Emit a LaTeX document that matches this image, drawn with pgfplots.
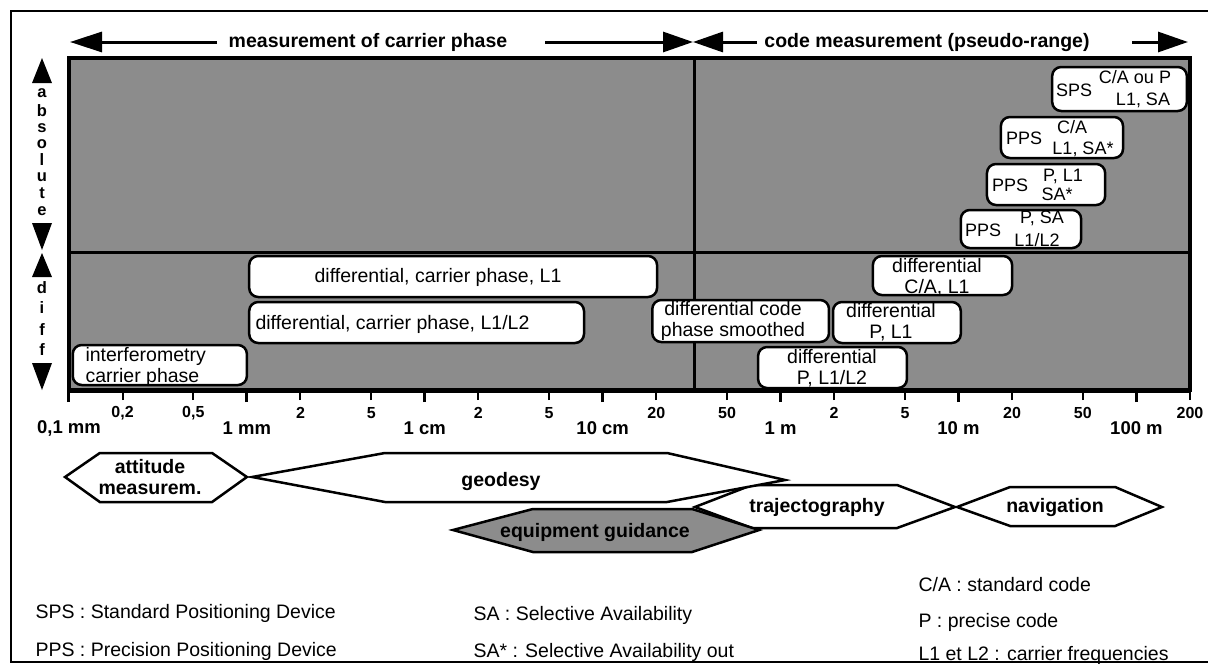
\documentclass[border=0pt]{standalone}
\usepackage{fontspec}
\setmainfont{Liberation Sans}
\usepackage{pgfplots}
\pgfplotsset{compat=1.18}
\usetikzlibrary{arrows.meta}
\newcommand{\fsB}{\fontsize{19.5}{21}\selectfont\bfseries}
\newcommand{\fsR}{\fontsize{19.5}{20.5}\selectfont}
\newcommand{\fsS}{\fontsize{18}{21}\selectfont}
\newcommand{\fsL}{\fontsize{16.5}{17}\selectfont\bfseries}
\begin{document}
\begin{tikzpicture}
\path[use as bounding box] (0pt,0pt) rectangle (1208pt,-664pt);
\begin{axis}[
  at={(69pt,-390pt)}, anchor=south west,
  scale only axis, width=1121pt, height=332pt,
  xmode=log, xmin=0.1, xmax=200000, ymin=274, ymax=606,
  enlargelimits=false, clip=false,
  axis background/.style={fill=black!45},
  axis line style={line width=3.5pt},
  ytick=\empty, xminorticks=false,
  xtick pos=left, tick align=outside,
  xtick={0.1,1,10,100,1000,10000,100000},
  xticklabels={{0,1 mm},{1 mm},{1 cm},{10 cm},{1 m},{10 m},{100 m}},
  major tick length=12pt,
  xtick style={line width=3pt, black},
  xticklabel style={font=\fontsize{18.5}{20}\selectfont\bfseries, anchor=center, yshift=-26pt},
  extra x ticks={0.2,0.5,2,5,20,50,200,500,2000,5000,20000,50000,200000},
  extra x tick labels={{0,2},{0,5},2,5,2,5,20,50,2,5,20,50,200},
  extra x tick style={xtick style={line width=2pt, black}, major tick length=10pt,
     xticklabel style={font=\fontsize{16}{18}\selectfont\bfseries, yshift=13pt}},
]
% dividers
\addplot[black, line width=3pt] coordinates {(0.1,412) (200000,412)};
\addplot[black, line width=3pt] coordinates {(326,274) (326,606)};
% rounded boxes
\pgfplotsset{bx/.style={draw=black, fill=white, line width=2.5pt, rounded corners=9pt}}
\addplot[bx] coordinates {(0.105,299) (0.105,279) (1.0,279) (1.0,319) (0.105,319) (0.105,299)};
\addplot[bx] coordinates {(1.03,387) (1.03,367) (202,367) (202,408) (1.03,408) (1.03,387)};
\addplot[bx] coordinates {(1.03,341) (1.03,321) (78.5,321) (78.5,362) (1.03,362) (1.03,341)};
\addplot[bx] coordinates {(190,343) (190,322) (1870,322) (1870,364) (190,364) (190,343)};
\addplot[bx] coordinates {(1970,341) (1970,321) (10300,321) (10300,362) (1970,362) (1970,341)};
\addplot[bx] coordinates {(3300,388) (3300,369) (20000,369) (20000,408) (3300,408) (3300,388)};
\addplot[bx] coordinates {(747,296) (747,276) (5130,276) (5130,317) (747,317) (747,296)};
\addplot[bx] coordinates {(10300,435) (10300,416) (48900,416) (48900,454) (10300,454) (10300,435)};
\addplot[bx] coordinates {(14450,479) (14450,459) (66700,459) (66700,500) (14450,500) (14450,479)};
\addplot[bx] coordinates {(17300,526) (17300,506) (84100,506) (84100,547) (17300,547) (17300,526)};
\addplot[bx] coordinates {(33600,575) (33600,553) (192000,553) (192000,597) (33600,597) (33600,575)};
% application hexagons
\pgfplotsset{hx/.style={draw=black, fill=white, line width=2.5pt, line join=miter}}
\addplot[hx] coordinates {(330,157) (690,179) (4510,179) (9550,157) (4510,136) (690,136)} -- cycle;
\addplot[hx] coordinates {(9810,157) (19500,177) (75900,177) (139000,157) (75900,138) (19500,138)} -- cycle;
\addplot[hx] coordinates {(0.095,187) (0.149,211) (0.637,211) (1.0,187) (0.637,162) (0.149,162)} -- cycle;
\addplot[hx] coordinates {(1.07,187) (5.97,211) (230,211) (1060,184) (230,162) (5.97,162)} -- cycle;
\addplot[hx, fill=black!45] coordinates {(14.4,134) (40.5,155) (318,155) (757,134) (318,112) (40.5,112)} -- cycle;
\end{axis}
\begin{scope}[x=1pt, y=-1pt]
% outer frame
\draw[line width=1.5pt] (1208,11) -- (11,11) -- (11,662) -- (1208,662);
\draw[line width=5pt] (69,390) -- (1190,390);
% header arrows
\draw[line width=3pt, -{Triangle[length=32pt, width=20pt]}] (217,42) -- (70,42);
\draw[line width=3pt, -{Triangle[length=30pt, width=20pt]}] (545,42) -- (693,42);
\draw[line width=3pt, -{Triangle[length=30pt, width=20pt]}] (757,42) -- (693,42);
\draw[line width=3pt, -{Triangle[length=30pt, width=20pt]}] (1132,42) -- (1188,42);
\node[font=\fsB] at (368,42) {measurement of carrier phase};
\node[font=\fsB] at (927,42) {code measurement (pseudo-range)};
% side arrows
\fill (42,58) -- (52,83) -- (32,83) -- cycle;
\fill (42,250) -- (52,223) -- (32,223) -- cycle;
\fill (42,253) -- (52,277) -- (32,277) -- cycle;
\fill (42,390) -- (52,363) -- (32,363) -- cycle;
\foreach \l/\y in {a/93,b/111,s/128,o/144,l/160,u/177,t/193,e/211,d/288,i/308,f/330,f/350}
  \node[font=\fsL, inner sep=0pt] at (42,\y) {\l};
% box texts
\node[font=\fsR, anchor=west, align=left] at (82,367) {interferometry\\carrier phase};
\node[font=\fsR] at (438,277) {differential, carrier phase, L1};
\node[font=\fsR, anchor=west] at (252,324) {differential, carrier phase, L1/L2};
\node[font=\fsR, align=center] at (733,321) {differential code\\phase smoothed};
\node[font=\fsR, align=center] at (891,322) {differential\\P, L1};
\node[font=\fsR, align=center] at (937,277) {differential\\C/A, L1};
\node[font=\fsR, align=center] at (832,368) {differential\\P, L1/L2};
\node[font=\fsS] at (1074,90) {SPS};
\node[font=\fsS] at (1135,77) {C/A ou P};
\node[font=\fsS] at (1143,100) {L1, SA};
\node[font=\fsS] at (1024,138) {PPS};
\node[font=\fsS] at (1072,127) {C/A};
\node[font=\fsS] at (1083,149) {L1, SA*};
\node[font=\fsS] at (1010,185) {PPS};
\node[font=\fsS] at (1063,176) {P, L1};
\node[font=\fsS] at (1057,194) {SA*};
\node[font=\fsS] at (983,230) {PPS};
\node[font=\fsS] at (1042,218) {P, SA};
\node[font=\fsS] at (1037,240) {L1/L2};
% hexagon texts
\node[font=\fsB, align=center] at (150,477) {attitude\\measurem.};
\node[font=\fsB] at (501,481) {geodesy};
\node[font=\fsB] at (595,532) {equipment guidance};
\node[font=\fsB] at (817,507) {trajectography};
\node[font=\fsB] at (1055,507) {navigation};
% legend
\node[font=\fsR, anchor=west] at (32,613) {SPS : Standard Positioning Device};
\node[font=\fsR, anchor=west] at (32,651) {PPS : Precision Positioning Device};
\node[font=\fsR, anchor=west] at (470,615) {SA : Selective Availability};
\node[font=\fsR, anchor=west] at (470,652) {SA* : Selective Availability out};
\node[font=\fsR, anchor=west] at (915,585) {C/A : standard code};
\node[font=\fsR, anchor=west] at (915,622) {P : precise code};
\node[font=\fsR, anchor=west] at (915,655) {L1 et L2 : carrier frequencies};
\end{scope}
\end{tikzpicture}
\end{document}
